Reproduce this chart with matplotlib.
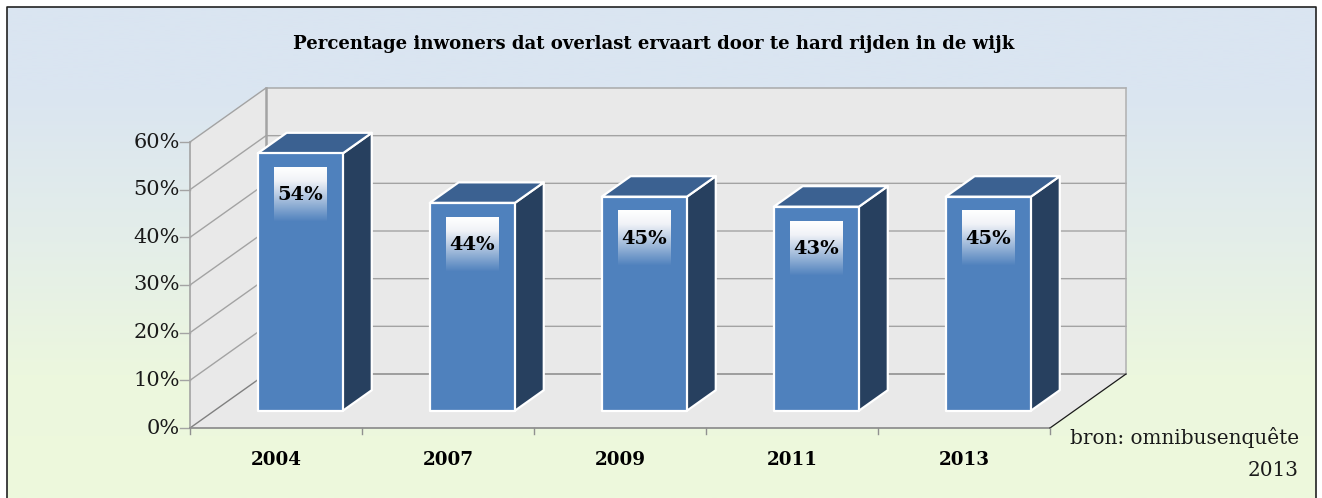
import numpy as np
import matplotlib
matplotlib.use("Agg")
import matplotlib.pyplot as plt
from matplotlib.lines import Line2D
from matplotlib.patches import Polygon
from matplotlib.colors import LinearSegmentedColormap

years = ["2004", "2007", "2009", "2011", "2013"]
values = [54.0, 43.6, 44.9, 42.8, 44.9]
y_ticks = [0, 10, 20, 30, 40, 50, 60]
title = "Percentage inwoners dat overlast ervaart door te hard rijden in de wijk"
source_lines = ["bron: omnibusenquête", "2013"]

W, H = 1322, 498
plt.rcParams["font.family"] = ["DejaVu Serif"]
fig = plt.figure(figsize=(W / 100, H / 100), dpi=100, facecolor="white")

# background gradient, inset from the left, top and right edges
BL, BT, BR = 7, 7, 1316
bg = fig.add_axes([BL / W, 0, (BR - BL) / W, 1 - BT / H], zorder=0)
bg.set_axis_off()
bg_cmap = LinearSegmentedColormap.from_list(
    "bg", [(0, "#dae5f1"), (0.17, "#dae5f1"), (0.45, "#e3edea"), (0.75, "#ecf7de"), (1, "#eef9dc")])
bg.imshow(np.linspace(0, 1, 256)[:, None], cmap=bg_cmap, aspect="auto", extent=[0, 1, 0, 1])
bg.set_xlim(0, 1)
bg.set_ylim(0, 1)

# main axes = front plane of the 3D box
L, R, Y0, Y60 = 190, 1050, 428, 142
ax = fig.add_axes([L / W, 1 - Y0 / H, (R - L) / W, (Y0 - Y60) / H], zorder=1)
ax.set_xlim(0, len(years))
ax.set_ylim(0, 60)
ax.set_axis_off()
DX = 76 / (R - L) * len(years)
DY = 54 / (Y0 - Y60) * 60
PY = 60 / (Y0 - Y60)   # data units per pixel, vertical
PX = len(years) / (R - L)


def P(x, y, d=0.0):
    return (x + d * DX, y + d * DY)


n = len(years)
wall = "#e9e9e9"
ax.add_patch(Polygon([P(0, 0), P(0, 60), P(0, 60, 1), P(0, 0, 1)], fc=wall, ec="none", clip_on=False, zorder=1))
ax.add_patch(Polygon([P(0, 0, 1), P(0, 60, 1), P(n, 60, 1), P(n, 0, 1)], fc=wall, ec="none", clip_on=False, zorder=1))
ax.add_patch(Polygon([P(0, 0), P(n, 0), P(n, 0, 1), P(0, 0, 1)], fc=wall, ec="none", clip_on=False, zorder=1))

grid = "#a3a3a3"
for t in y_ticks:
    xs, ys = zip(P(0, t), P(0, t, 1), P(n, t, 1))
    ax.plot(xs, ys, color="#808080" if t == 0 else grid, lw=1.0, clip_on=False, zorder=2)
    ax.plot([-10 * PX, 0], [t, t], color=grid, lw=1.0, clip_on=False, zorder=2)
    ax.text(-10 * PX, t, f"{t}%", ha="right", va="center", fontsize=15,
            color="#1a1a1a", clip_on=False)

xs, ys = zip(P(0, 0), P(0, 60))
ax.plot(xs, ys, color=grid, lw=1.2, clip_on=False, zorder=2)
xs, ys = zip(P(0, 0, 1), P(0, 60, 1))
ax.plot(xs, ys, color=grid, lw=1.8, clip_on=False, zorder=2)
xs, ys = zip(P(n, 0, 1), P(n, 60, 1))
ax.plot(xs, ys, color="#b0b0b0", lw=1.1, clip_on=False, zorder=2)
ax.plot([0, n], [0, 0], color="#909090", lw=1.3, clip_on=False, zorder=3)
xs, ys = zip(P(n, 0), P(n, 0, 1))
ax.plot(xs, ys, color="#1a1a1a", lw=0.9, clip_on=False, zorder=3)
for i in range(n + 1):
    ax.plot([i, i], [0, -6 * PY], color="#909090", lw=1.0, clip_on=False, zorder=3)

# bars
d0, d1 = 0.32, 0.70
bw = 0.495
label_cmap = LinearSegmentedColormap.from_list("lab", [(0, "#ffffff"), (0.25, "#f0f2f7"), (1, "#4f81bd")])
for i, v in enumerate(values):
    x0, x1 = i + 0.5 - bw / 2, i + 0.5 + bw / 2
    kw = dict(ec="white", lw=1.6, joinstyle="round", clip_on=False, zorder=4)
    ax.add_patch(Polygon([P(x1, 0, d0), P(x1, v, d0), P(x1, v, d1), P(x1, 0, d1)], fc="#27405f", **kw))
    ax.add_patch(Polygon([P(x0, v, d0), P(x1, v, d0), P(x1, v, d1), P(x0, v, d1)], fc="#3b6191", **kw))
    ax.add_patch(Polygon([P(x0, 0, d0), P(x1, 0, d0), P(x1, v, d0), P(x0, v, d0)], fc="#4f81bd", **kw))
    cx, ytop = P(i + 0.5, v, d0)
    hw = 26.5 * PX
    top = ytop - 14 * PY
    bot = top - 55 * PY
    ax.imshow(np.linspace(0, 1, 64)[:, None], cmap=label_cmap, aspect="auto",
              extent=[cx - hw, cx + hw, bot, top], zorder=5, clip_on=False)
    ax.text(cx, top - 28 * PY, f"{v:.0f}%", ha="center", va="center",
            fontsize=14, fontweight="bold", color="black", zorder=6, clip_on=False)
    ax.text(i + 0.5, -32 * PY, years[i], ha="center", va="center", fontsize=13.2,
            fontweight="bold", color="black", clip_on=False)

ax.set_xlim(0, n)
ax.set_ylim(0, 60)

fig.text(654 / W, 1 - 44 / H, title, ha="center", va="center", fontsize=13.1, fontweight="bold", color="black")
fig.text(1299 / W, 1 - 437 / H, source_lines[0], ha="right", va="center", fontsize=14.4, color="#1a1a1a")
fig.text(1299 / W, 1 - 470 / H, source_lines[1], ha="right", va="center", fontsize=14.4, color="#1a1a1a")

# chart border: left, top and right only
fig.add_artist(Line2D([BL / W, BL / W, BR / W, BR / W], [0, 1 - BT / H, 1 - BT / H, 0],
                      color="#222222", lw=1.2))

fig.savefig("out.png", dpi=100)
